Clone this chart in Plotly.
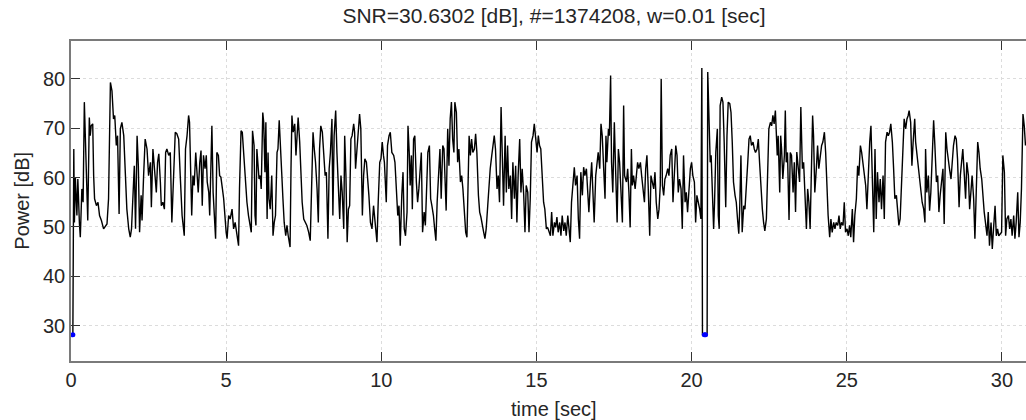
import plotly.graph_objects as go

# ---- data: (time [sec], power [dB]) vertices ----
seg_00_05 = [
    (0.06, 28.1), (0.09, 65.8), (0.11, 50.9), (0.14, 60.1), (0.19, 52.3), (0.22, 59.7), (0.27, 50.9),
    (0.30, 47.9), (0.35, 57.7), (0.39, 55.0), (0.43, 75.3), (0.49, 61.8), (0.54, 51.3), (0.59, 72.2),
    (0.62, 68.5), (0.65, 70.5), (0.70, 70.9), (0.73, 60.4), (0.76, 55.7), (0.82, 54.3), (0.87, 55.0),
    (0.92, 52.3), (0.98, 51.3), (1.05, 49.6), (1.11, 50.3), (1.16, 50.6), (1.21, 55.7), (1.27, 79.3),
    (1.32, 77.6), (1.37, 71.9), (1.41, 72.6), (1.46, 66.5), (1.50, 68.5), (1.55, 52.6), (1.59, 69.9),
    (1.64, 71.2), (1.70, 68.5), (1.75, 61.8), (1.80, 53.6), (1.86, 49.6), (1.91, 47.9), (1.95, 49.6),
    (2.00, 59.1), (2.04, 62.4), (2.08, 49.6), (2.13, 68.5), (2.17, 62.4), (2.21, 48.9), (2.26, 56.4),
    (2.29, 51.3), (2.34, 60.4), (2.39, 67.8), (2.45, 65.8), (2.50, 60.4), (2.56, 63.1), (2.59, 54.0),
    (2.64, 65.8), (2.70, 61.8), (2.75, 57.0), (2.79, 63.1), (2.83, 64.8), (2.88, 59.1), (2.91, 54.3),
    (2.96, 55.0), (3.01, 53.6), (3.05, 65.1), (3.09, 65.8), (3.15, 64.5), (3.20, 65.1), (3.25, 50.9),
    (3.31, 61.8), (3.36, 69.2), (3.41, 68.9), (3.47, 67.8), (3.52, 60.4), (3.58, 52.3), (3.65, 48.2),
    (3.69, 65.8), (3.74, 68.5), (3.79, 72.6), (3.82, 71.2), (3.86, 60.4), (3.89, 52.3), (3.93, 60.4),
    (3.97, 58.4), (4.02, 65.1), (4.06, 61.8), (4.10, 57.0), (4.15, 63.1), (4.19, 65.5), (4.23, 54.3),
    (4.27, 64.5), (4.32, 61.8), (4.36, 64.5), (4.39, 59.1), (4.44, 57.0), (4.47, 52.3), (4.51, 65.1),
    (4.54, 70.5), (4.58, 57.0), (4.62, 50.9), (4.66, 47.6), (4.70, 65.1), (4.75, 64.5), (4.79, 60.4),
    (4.83, 60.1), (4.88, 57.7), (4.92, 55.7),
]
seg_05_10 = [
    (5.00, 48.9), (5.03, 47.6), (5.08, 52.3), (5.13, 51.6), (5.19, 53.6), (5.24, 49.6), (5.29, 50.9),
    (5.35, 48.2), (5.40, 46.2), (5.43, 57.7), (5.48, 69.5), (5.52, 69.2), (5.56, 65.1), (5.62, 60.4),
    (5.67, 55.0), (5.72, 52.3), (5.78, 49.9), (5.81, 48.9), (5.85, 69.5), (5.90, 66.5), (5.93, 52.3),
    (5.96, 50.3), (5.99, 65.8), (6.03, 61.8), (6.06, 59.7), (6.10, 60.4), (6.13, 57.7), (6.18, 73.2),
    (6.21, 71.2), (6.25, 61.1), (6.28, 71.2), (6.32, 51.6), (6.35, 65.1), (6.38, 55.7), (6.42, 53.6),
    (6.47, 60.4), (6.51, 48.2), (6.55, 50.9), (6.59, 52.3), (6.64, 65.1), (6.67, 65.8), (6.71, 71.6),
    (6.74, 66.5), (6.79, 61.1), (6.83, 55.7), (6.87, 50.9), (6.92, 48.2), (6.96, 50.3), (7.00, 48.2),
    (7.06, 45.9), (7.09, 61.8), (7.12, 72.6), (7.16, 69.2), (7.21, 70.9), (7.25, 64.5), (7.28, 68.5),
    (7.32, 72.2), (7.37, 67.2), (7.41, 59.1), (7.45, 55.0), (7.50, 51.6), (7.55, 50.9), (7.60, 50.3),
    (7.66, 48.9), (7.71, 47.2), (7.75, 57.0), (7.80, 69.2), (7.84, 65.8), (7.88, 63.1), (7.93, 57.7),
    (7.97, 50.9), (8.01, 65.8), (8.05, 70.5), (8.10, 69.2), (8.14, 65.8), (8.19, 60.4), (8.23, 61.1),
    (8.28, 47.6), (8.32, 61.8), (8.36, 65.1), (8.41, 71.9), (8.44, 52.3), (8.48, 68.5), (8.53, 73.6),
    (8.57, 65.1), (8.61, 59.7), (8.66, 51.6), (8.70, 60.4), (8.74, 57.0), (8.79, 49.6), (8.82, 68.5),
    (8.86, 60.4), (8.90, 46.9), (8.94, 53.6), (8.98, 54.3), (9.02, 67.8), (9.06, 68.5), (9.11, 70.9),
    (9.14, 69.2), (9.17, 61.8), (9.22, 65.8), (9.25, 68.5), (9.30, 72.9), (9.34, 69.9), (9.39, 52.3),
    (9.43, 60.4), (9.47, 63.8), (9.52, 63.1), (9.56, 60.4), (9.60, 56.4), (9.65, 50.9), (9.70, 49.6),
    (9.75, 54.3), (9.81, 49.6), (9.86, 46.9), (9.90, 55.0), (9.95, 63.1), (9.99, 63.8), (10.03, 67.2),
    (10.07, 64.5),
]
seg_10_15 = [
    (10.10, 63.1), (10.16, 55.0), (10.20, 66.5), (10.25, 68.5), (10.29, 69.2), (10.34, 65.1),
    (10.40, 64.5), (10.44, 63.1), (10.48, 58.4), (10.53, 52.3), (10.57, 54.3), (10.61, 46.2),
    (10.66, 56.4), (10.70, 61.1), (10.74, 49.6), (10.78, 48.2), (10.83, 53.0), (10.86, 70.5),
    (10.90, 65.1), (10.93, 58.4), (10.97, 64.5), (11.00, 53.6), (11.04, 67.8), (11.08, 68.5),
    (11.13, 59.1), (11.17, 55.0), (11.21, 57.7), (11.26, 62.4), (11.29, 65.1), (11.33, 48.9),
    (11.38, 53.0), (11.42, 50.3), (11.46, 59.1), (11.50, 65.1), (11.55, 66.5), (11.59, 55.7),
    (11.63, 54.3), (11.68, 52.3), (11.72, 49.6), (11.76, 47.2), (11.80, 55.0), (11.85, 63.1),
    (11.89, 65.8), (11.93, 55.7), (11.98, 66.5), (12.02, 65.8), (12.06, 57.0), (12.09, 53.3),
    (12.14, 69.9), (12.18, 62.4), (12.22, 71.9), (12.26, 75.3), (12.30, 67.8), (12.34, 65.1),
    (12.37, 75.3), (12.42, 73.2), (12.46, 63.1), (12.50, 65.8), (12.55, 59.1), (12.59, 60.4),
    (12.63, 57.7), (12.67, 53.6), (12.72, 48.9), (12.76, 47.9), (12.79, 56.4), (12.83, 68.5),
    (12.87, 64.5), (12.91, 67.8), (12.95, 65.1), (13.00, 65.8), (13.04, 68.9), (13.08, 65.1),
    (13.13, 56.4), (13.17, 53.0), (13.21, 52.0), (13.25, 50.9), (13.30, 48.9), (13.34, 47.6),
    (13.38, 49.6), (13.43, 54.3), (13.47, 59.1), (13.51, 61.8), (13.56, 64.5), (13.60, 67.2),
    (13.64, 68.5), (13.68, 65.8), (13.73, 57.7), (13.77, 60.4), (13.81, 55.0), (13.86, 74.3),
    (13.90, 64.5), (13.94, 54.3), (13.99, 68.5), (14.03, 57.0), (14.07, 66.5), (14.11, 57.7),
    (14.16, 60.4), (14.20, 51.6), (14.24, 63.1), (14.29, 55.7), (14.33, 62.4), (14.37, 50.9),
    (14.41, 60.4), (14.46, 67.8), (14.50, 57.0), (14.54, 61.8), (14.59, 56.4), (14.63, 48.9),
    (14.67, 58.4), (14.72, 57.0), (14.76, 48.9), (14.80, 55.7), (14.84, 67.2), (14.89, 68.5),
    (14.93, 70.9), (14.97, 67.8), (15.02, 65.1), (15.06, 68.5), (15.10, 66.5), (15.14, 65.8),
    (15.19, 60.4), (15.23, 55.0), (15.27, 53.6), (15.32, 49.6), (15.36, 49.9), (15.40, 48.9),
    (15.45, 48.2),
]
seg_15_20 = [
    (15.49, 53.0), (15.53, 48.2), (15.58, 50.9), (15.62, 49.9), (15.66, 52.0), (15.70, 48.9),
    (15.75, 50.9), (15.79, 48.2), (15.83, 52.3), (15.88, 49.2), (15.92, 50.9), (15.96, 48.2),
    (16.01, 52.3), (16.05, 49.6), (16.09, 46.9), (16.13, 55.0), (16.18, 59.7), (16.22, 62.1),
    (16.26, 58.4), (16.31, 60.4), (16.35, 51.6), (16.39, 47.6), (16.43, 61.1), (16.48, 56.4),
    (16.52, 62.1), (16.56, 60.4), (16.61, 61.8), (16.65, 57.7), (16.69, 53.0), (16.74, 59.1),
    (16.78, 63.1), (16.82, 57.0), (16.86, 50.9), (16.91, 60.4), (16.95, 63.1), (16.99, 65.1),
    (17.04, 61.8), (17.08, 70.9), (17.12, 68.5), (17.17, 60.4), (17.21, 55.7), (17.24, 68.5),
    (17.27, 63.1), (17.32, 69.9), (17.35, 68.5), (17.39, 80.7), (17.42, 63.1), (17.46, 57.0),
    (17.49, 68.5), (17.51, 71.2), (17.55, 61.8), (17.60, 50.9), (17.64, 65.8), (17.68, 63.1),
    (17.72, 57.7), (17.77, 50.9), (17.81, 74.6), (17.84, 60.4), (17.90, 59.1), (17.94, 61.8),
    (17.98, 57.0), (18.02, 49.9), (18.06, 65.8), (18.09, 58.4), (18.13, 60.4), (18.18, 57.7),
    (18.22, 60.4), (18.26, 63.1), (18.30, 61.8), (18.35, 63.1), (18.39, 60.4), (18.43, 57.7),
    (18.48, 55.0), (18.52, 61.8), (18.56, 64.5), (18.60, 58.4), (18.65, 48.2), (18.69, 60.4),
    (18.73, 59.1), (18.78, 57.7), (18.82, 61.1), (18.86, 55.0), (18.91, 51.6), (18.95, 53.6),
    (18.99, 58.4), (19.02, 80.0), (19.06, 58.4), (19.10, 56.4), (19.14, 59.7), (19.18, 60.4),
    (19.23, 61.8), (19.27, 60.4), (19.31, 64.5), (19.36, 65.8), (19.40, 55.0), (19.44, 60.4),
    (19.49, 66.5), (19.53, 64.5), (19.57, 57.0), (19.61, 59.7), (19.66, 57.7), (19.70, 49.6),
    (19.74, 64.5), (19.79, 55.0), (19.83, 57.0), (19.87, 53.0), (19.92, 58.4), (19.96, 61.8),
    (20.00, 63.1), (20.04, 60.4), (20.09, 59.1), (20.13, 50.9), (20.17, 56.4), (20.22, 55.0),
    (20.26, 53.6), (20.30, 51.6), (20.33, 82.2), (20.35, 28.1), (20.50, 28.1), (20.52, 81.4),
]
seg_20_25 = [
    (20.60, 63.1), (20.63, 64.5), (20.67, 55.0), (20.71, 49.6), (20.74, 55.0), (20.78, 65.1),
    (20.83, 69.9), (20.86, 52.3), (20.89, 49.6), (20.92, 74.6), (20.97, 76.3), (21.01, 75.3),
    (21.05, 67.2), (21.10, 54.0), (21.14, 68.5), (21.18, 75.3), (21.23, 75.0), (21.27, 73.2),
    (21.31, 67.2), (21.35, 59.1), (21.40, 56.4), (21.44, 55.0), (21.48, 51.6), (21.52, 48.6),
    (21.55, 53.6), (21.59, 64.5), (21.63, 48.9), (21.68, 54.3), (21.72, 53.6), (21.76, 59.1),
    (21.81, 63.1), (21.85, 67.8), (21.89, 68.5), (21.93, 66.5), (21.98, 67.2), (22.02, 65.8),
    (22.06, 65.1), (22.11, 65.8), (22.15, 67.8), (22.19, 63.1), (22.23, 57.7), (22.28, 53.6),
    (22.32, 50.9), (22.36, 49.2), (22.41, 51.6), (22.45, 60.4), (22.49, 69.9), (22.54, 71.2),
    (22.58, 70.5), (22.62, 72.6), (22.66, 70.9), (22.70, 73.6), (22.73, 68.5), (22.76, 64.5),
    (22.79, 68.5), (22.84, 57.0), (22.87, 68.5), (22.90, 65.8), (22.94, 59.7), (22.99, 64.5),
    (23.02, 73.6), (23.05, 63.1), (23.09, 65.1), (23.14, 51.4), (23.18, 65.1), (23.22, 64.5),
    (23.27, 57.0), (23.31, 63.1), (23.35, 53.0), (23.39, 65.2), (23.44, 61.8), (23.48, 59.1),
    (23.52, 74.3), (23.57, 61.8), (23.61, 63.1), (23.65, 55.0), (23.70, 49.6), (23.74, 57.7),
    (23.78, 55.0), (23.82, 49.6), (23.87, 61.8), (23.90, 72.6), (23.93, 68.5), (23.97, 57.0),
    (24.02, 61.8), (24.06, 66.5), (24.10, 61.8), (24.15, 65.1), (24.19, 66.5), (24.23, 67.2),
    (24.28, 69.2), (24.32, 65.1), (24.36, 57.7), (24.40, 52.3), (24.45, 47.9), (24.49, 51.6),
    (24.53, 48.9), (24.58, 50.9), (24.62, 49.6), (24.66, 50.9), (24.71, 50.3), (24.75, 52.3),
    (24.79, 49.6), (24.83, 50.9), (24.88, 50.3), (24.92, 55.0), (24.96, 48.9), (25.01, 49.6),
    (25.05, 48.2), (25.09, 50.3), (25.13, 47.9), (25.18, 53.6), (25.22, 46.9), (25.26, 52.3),
    (25.31, 55.7), (25.35, 62.4), (25.39, 60.4), (25.44, 66.5), (25.48, 65.1), (25.52, 63.1),
    (25.56, 60.4), (25.61, 58.4), (25.65, 53.6), (25.69, 61.8), (25.74, 67.2),
]
seg_25_31 = [
    (25.78, 70.5), (25.82, 61.8), (25.87, 48.9), (25.91, 65.8), (25.95, 51.6), (25.99, 61.1),
    (26.04, 55.0), (26.08, 59.7), (26.12, 53.6), (26.17, 60.4), (26.21, 51.6), (26.25, 67.2),
    (26.30, 69.2), (26.34, 68.5), (26.38, 69.2), (26.42, 70.9), (26.47, 67.2), (26.51, 61.8),
    (26.55, 55.7), (26.60, 56.4), (26.64, 53.6), (26.68, 50.3), (26.72, 51.6), (26.77, 60.4),
    (26.81, 66.5), (26.85, 71.9), (26.90, 69.9), (26.94, 71.9), (26.98, 72.6), (27.01, 73.6),
    (27.06, 71.2), (27.10, 62.4), (27.14, 67.2), (27.19, 71.9), (27.22, 67.2), (27.26, 65.1),
    (27.30, 61.8), (27.35, 59.1), (27.39, 57.7), (27.43, 55.0), (27.48, 53.6), (27.52, 50.9),
    (27.54, 65.8), (27.58, 57.0), (27.63, 60.4), (27.67, 53.3), (27.71, 57.0), (27.76, 66.5),
    (27.80, 71.6), (27.84, 66.5), (27.89, 59.1), (27.93, 60.4), (27.97, 53.0), (28.01, 56.4),
    (28.06, 60.4), (28.10, 61.8), (28.14, 50.6), (28.19, 69.2), (28.23, 65.8), (28.27, 63.1),
    (28.31, 61.8), (28.36, 59.7), (28.40, 63.1), (28.44, 66.5), (28.49, 68.5), (28.53, 67.8),
    (28.57, 63.8), (28.62, 54.0), (28.66, 60.4), (28.70, 63.1), (28.74, 65.8), (28.79, 60.4),
    (28.83, 55.7), (28.87, 63.1), (28.92, 60.4), (28.96, 53.6), (29.00, 57.0), (29.04, 60.4),
    (29.09, 55.7), (29.13, 47.6), (29.17, 56.4), (29.22, 67.2), (29.26, 65.1), (29.30, 61.8),
    (29.35, 59.7), (29.39, 55.0), (29.43, 53.0), (29.47, 50.9), (29.52, 48.2), (29.56, 53.0),
    (29.60, 46.2), (29.65, 50.9), (29.69, 45.5), (29.73, 49.6), (29.78, 54.3), (29.82, 48.2),
    (29.86, 49.6), (29.90, 48.2), (29.95, 48.6), (29.99, 48.9), (30.03, 64.5), (30.08, 61.1),
    (30.12, 48.2), (30.16, 51.6), (30.21, 52.3), (30.25, 49.6), (30.29, 51.6), (30.33, 48.2),
    (30.38, 52.3), (30.42, 47.6), (30.46, 50.9), (30.51, 57.0), (30.55, 47.9), (30.59, 50.9),
    (30.63, 57.7), (30.68, 72.9), (30.72, 70.5), (30.76, 66.5),
]
# low points highlighted in blue
low_time = [0.06, 20.41, 20.45]
low_power = [28.1, 28.1, 28.1]

x_ticks = [0, 5, 10, 15, 20, 25, 30]
y_ticks = [30, 40, 50, 60, 70, 80]
title_text = "SNR=30.6302 [dB], #=1374208, w=0.01 [sec]"
x_label = "time [sec]"
y_label = "Power [dB]"

segments = [seg_00_05, seg_05_10, seg_10_15, seg_15_20, seg_20_25, seg_25_31]
time_sec = [t for seg in segments for t, _ in seg]
power_db = [p for seg in segments for _, p in seg]

FONT = "Liberation Sans, Arial, Helvetica, sans-serif"
W, H = 1026, 420
ML, MT, MB, MR = 71, 41, 59, 0

fig = go.Figure()
fig.add_trace(go.Scatter(x=time_sec, y=power_db, mode="lines",
                         line=dict(color="black", width=1.4), hoverinfo="skip", showlegend=False))
fig.add_trace(go.Scatter(x=low_time, y=low_power, mode="markers",
                         marker=dict(color="#0000ff", size=5), hoverinfo="skip", showlegend=False))

axis_common = dict(
    showline=True, linecolor="#7a7a7a", linewidth=1.5,
    ticks="inside", ticklen=9, tickwidth=1, tickcolor="#333333",
    showgrid=True, gridcolor="#dcdcdc", griddash="dot", gridwidth=1,
    zeroline=False,
    tickfont=dict(family=FONT, size=20, color="#262626"),
)
plot_w = W - ML - MR
fig.update_xaxes(range=[0, plot_w / 31.03], tickvals=x_ticks, mirror="ticks", **axis_common)
fig.update_yaxes(range=[22.8, 87.7], tickvals=y_ticks, mirror=False, **axis_common)

fig.update_layout(
    width=W, height=H,
    margin=dict(l=ML, r=MR, t=MT, b=MB, pad=0),
    paper_bgcolor="white", plot_bgcolor="white",
    font=dict(family=FONT, size=20, color="#262626"),
    title=dict(text=title_text, font=dict(family=FONT, size=21, color="#262626"),
               x=554 / W, xanchor="center", xref="container",
               y=1 - 16 / H, yanchor="middle", yref="container"),
    annotations=[
        dict(text=x_label, xref="paper", yref="paper", x=(554 - ML) / plot_w, y=0,
             xanchor="center", yanchor="middle", yshift=-48, showarrow=False,
             font=dict(family=FONT, size=20, color="#262626")),
        dict(text=y_label, xref="paper", yref="paper", x=0, y=0.5, textangle=-90,
             xanchor="center", yanchor="middle", xshift=-(ML - 21.7), showarrow=False,
             font=dict(family=FONT, size=20, color="#262626")),
    ],
)

fig.write_html("out.html", config={"displayModeBar": False},
               post_script="document.body.style.margin='0';document.body.style.overflow='hidden';")
